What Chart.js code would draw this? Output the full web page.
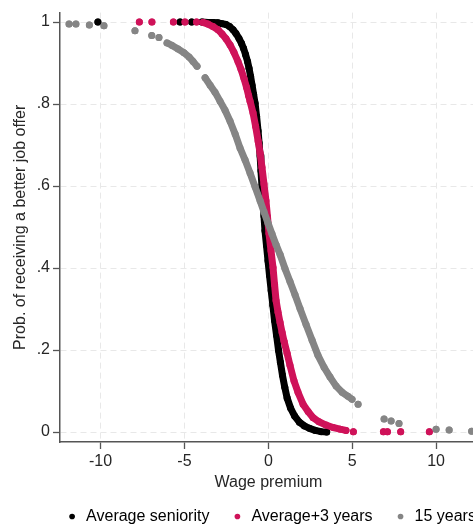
<!DOCTYPE html>
<html>
<head>
<meta charset="utf-8">
<script src="https://cdn.jsdelivr.net/npm/chart.js@4.4.1/dist/chart.umd.min.js"></script>
<style>
  html, body { margin: 0; padding: 0; background: #ffffff; overflow: hidden; width: 473px; height: 529px; }
  #wrap { position: relative; width: 542px; height: 529px; }
</style>
</head>
<body>
<div id="wrap"><canvas id="chart" width="542" height="529"></canvas></div>
<script>
// Predicted probability of receiving a better job offer vs. wage premium,
// for three seniority profiles. Points are [wage premium, probability].

const xTickValues = [-10, -5, 0, 5, 10];
const yTickValues = [0, 0.2, 0.4, 0.6, 0.8, 1];

// Average seniority
const avgSeniorityLoose = [[-10.16, 1.000], [-5.26, 1.000], [-4.57, 1.000]];
const avgSeniorityCurve = [
  [-3.95, 1.000], [-3.60, 0.999], [-3.30, 0.999], [-3.00, 0.998], [-2.76, 0.996],
  [-2.52, 0.994], [-2.31, 0.989], [-2.10, 0.981], [-1.93, 0.972], [-1.75, 0.960],
  [-1.60, 0.948], [-1.48, 0.936], [-1.36, 0.921], [-1.24, 0.904], [-1.15, 0.887],
  [-1.06, 0.868], [-0.97, 0.846], [-0.88, 0.824], [-0.79, 0.802], [-0.70, 0.770],
  [-0.61, 0.734], [-0.55, 0.705], [-0.49, 0.673], [-0.44, 0.637], [-0.38, 0.600],
  [-0.32, 0.564], [-0.26, 0.527], [-0.20, 0.491], [-0.11, 0.455], [-0.02, 0.418],
  [0.07, 0.382], [0.17, 0.345], [0.27, 0.309], [0.37, 0.272], [0.49, 0.236],
  [0.61, 0.199], [0.72, 0.170], [0.84, 0.139], [0.98, 0.109], [1.12, 0.083],
  [1.33, 0.058], [1.57, 0.039], [1.85, 0.024], [2.15, 0.015], [2.45, 0.009],
  [2.80, 0.004], [3.15, 0.001], [3.48, 0.000]
];

// Average + 3 years
const plusThreeLoose = [[-7.69, 1.000], [-6.94, 1.000], [-5.66, 1.000], [-4.97, 1.000], [-4.28, 1.000]];
const plusThreeCurve = [
  [-3.89, 0.999], [-3.60, 0.995], [-3.30, 0.989], [-3.00, 0.981], [-2.76, 0.971],
  [-2.52, 0.959], [-2.28, 0.944], [-2.05, 0.926], [-1.81, 0.904], [-1.63, 0.885],
  [-1.45, 0.862], [-1.30, 0.841], [-1.18, 0.821], [-1.09, 0.807], [-0.91, 0.778],
  [-0.76, 0.746], [-0.61, 0.710], [-0.49, 0.680], [-0.38, 0.646], [-0.26, 0.605],
  [-0.14, 0.564], [-0.05, 0.525], [0.04, 0.484], [0.16, 0.442], [0.28, 0.401],
  [0.37, 0.360], [0.46, 0.321], [0.58, 0.292], [0.70, 0.267], [0.82, 0.243],
  [0.94, 0.221], [1.12, 0.192], [1.29, 0.163], [1.53, 0.125], [1.77, 0.097],
  [2.07, 0.068], [2.37, 0.050], [2.67, 0.035], [3.02, 0.025], [3.44, 0.017],
  [3.86, 0.011], [4.28, 0.007], [4.63, 0.004]
];
const plusThreeTail = [[5.07, 0.001], [6.86, 0.001], [7.10, 0.001], [7.89, 0.001], [9.60, 0.001]];

// 15 years
const fifteenLoose = [[-11.88, 0.995], [-11.47, 0.995], [-10.67, 0.993], [-9.80, 0.991],
  [-7.95, 0.979], [-6.95, 0.967], [-6.52, 0.962]];
const fifteenUpper = [[-6.04, 0.949], [-5.74, 0.943], [-5.38, 0.934], [-5.03, 0.925],
  [-4.73, 0.915], [-4.49, 0.904], [-4.25, 0.892]];
const fifteenMain = [
  [-3.77, 0.864], [-3.47, 0.846], [-3.18, 0.829], [-2.88, 0.807], [-2.58, 0.785],
  [-2.28, 0.758], [-1.98, 0.727], [-1.69, 0.693], [-1.39, 0.664], [-1.09, 0.632],
  [-0.79, 0.598], [-0.49, 0.564], [-0.26, 0.537], [-0.02, 0.510], [0.22, 0.483],
  [0.46, 0.457], [0.70, 0.433], [0.99, 0.399], [1.29, 0.367], [1.59, 0.335],
  [1.89, 0.301], [2.25, 0.262], [2.61, 0.224], [2.96, 0.187], [3.32, 0.158],
  [3.68, 0.134], [4.04, 0.112], [4.40, 0.097], [4.75, 0.087], [4.99, 0.080]
];
const fifteenTail = [[5.35, 0.068], [6.90, 0.032], [7.32, 0.027], [7.79, 0.021],
  [10.00, 0.007], [10.78, 0.005], [12.12, 0.002]];

const seriesNames = ['Average seniority', 'Average+3 years', '15 years'];
const seriesColors = ['#000000', '#cf1259', '#858585'];

// Join runs of points; a null between runs keeps them from being connected.
function joinRuns(runs) {
  const out = [];
  runs.forEach((run, i) => {
    if (i > 0) out.push({ x: run[0][0], y: null });
    run.forEach(([x, y]) => out.push({ x, y }));
  });
  return out;
}
const singles = pts => pts.map(p => [p]);

const seriesData = [
  joinRuns([...singles(avgSeniorityLoose), avgSeniorityCurve]),
  joinRuns([...singles(plusThreeLoose), plusThreeCurve, ...singles(plusThreeTail)]),
  joinRuns([...singles(fifteenLoose), fifteenUpper, fifteenMain, ...singles(fifteenTail)])
];
const drawOrder = [3, 2, 1];

const FONT = { family: "'Liberation Sans', Arial, Helvetica, sans-serif", size: 16 };
const TEXT = '#262626';
const AXIS = '#555555';
const GRID = '#e8e8e8';

new Chart(document.getElementById('chart'), {
  type: 'scatter',
  data: {
    datasets: seriesNames.map((name, i) => ({
      label: name,
      data: seriesData[i],
      showLine: true,
      spanGaps: false,
      tension: 0,
      borderColor: seriesColors[i],
      backgroundColor: seriesColors[i],
      pointBackgroundColor: seriesColors[i],
      borderWidth: 7,
      borderCapStyle: 'round',
      borderJoinStyle: 'round',
      pointRadius: 3.5,
      pointHoverRadius: 3.5,
      pointBorderWidth: 0,
      order: drawOrder[i]
    }))
  },
  options: {
    responsive: false,
    animation: false,
    devicePixelRatio: 1,
    layout: { padding: { top: 11, right: 0, bottom: 0, left: 0 } },
    plugins: {
      tooltip: { enabled: false },
      legend: {
        position: 'bottom',
        maxHeight: 42.5,
        labels: {
          usePointStyle: true,
          boxWidth: 12,
          boxHeight: 4,
          padding: 22,
          color: TEXT,
          font: FONT,
          generateLabels: chart => chart.data.datasets.map((ds, i) => ({
            text: ds.label,
            fillStyle: ds.pointBackgroundColor,
            strokeStyle: ds.pointBackgroundColor,
            lineWidth: 0,
            pointStyle: 'circle',
            hidden: false,
            datasetIndex: i
          }))
        }
      }
    },
    scales: {
      x: {
        type: 'linear',
        position: 'bottom',
        min: -12.42,
        max: 12.44,
        afterBuildTicks: s => { s.ticks = xTickValues.map(v => ({ value: v })); },
        afterFit: s => { s.height = 44.5; },
        ticks: {
          autoSkip: false, maxRotation: 0, padding: 3, color: TEXT, font: FONT,
          callback: v => String(v)
        },
        grid: { color: GRID, lineWidth: 1, tickColor: AXIS, tickLength: 7, tickWidth: 1.3, tickBorderDash: [] },
        border: { color: AXIS, width: 1.5, dash: [6, 4] },
        title: { display: true, text: 'Wage premium', color: TEXT, font: FONT, padding: { top: 0, bottom: -6 } }
      },
      y: {
        type: 'linear',
        min: -0.0243,
        max: 1.023,
        afterBuildTicks: s => { s.ticks = yTickValues.map(v => ({ value: v })); },
        afterFit: s => { s.width = 60; },
        ticks: {
          autoSkip: false, padding: 3, color: TEXT, font: FONT,
          callback: v => (v === 0 ? '0' : v === 1 ? '1' : String(v).replace(/^0/, ''))
        },
        grid: { color: GRID, lineWidth: 1, tickColor: AXIS, tickLength: 7, tickWidth: 1.3, tickBorderDash: [] },
        border: { color: AXIS, width: 1.5, dash: [6, 4] },
        title: { display: true, text: 'Prob. of receiving a better job offer', color: TEXT, font: FONT, padding: { top: 10.5, bottom: 0 } }
      },
      // empty margin on the right, so the plot region stays left of the legend's centre
      rightMargin: {
        type: 'linear',
        position: 'right',
        display: true,
        afterFit: s => { s.width = 65; },
        ticks: { display: false },
        grid: { display: false, drawOnChartArea: false },
        border: { display: false },
        title: { display: false }
      }
    }
  }
});
</script>
</body>
</html>
